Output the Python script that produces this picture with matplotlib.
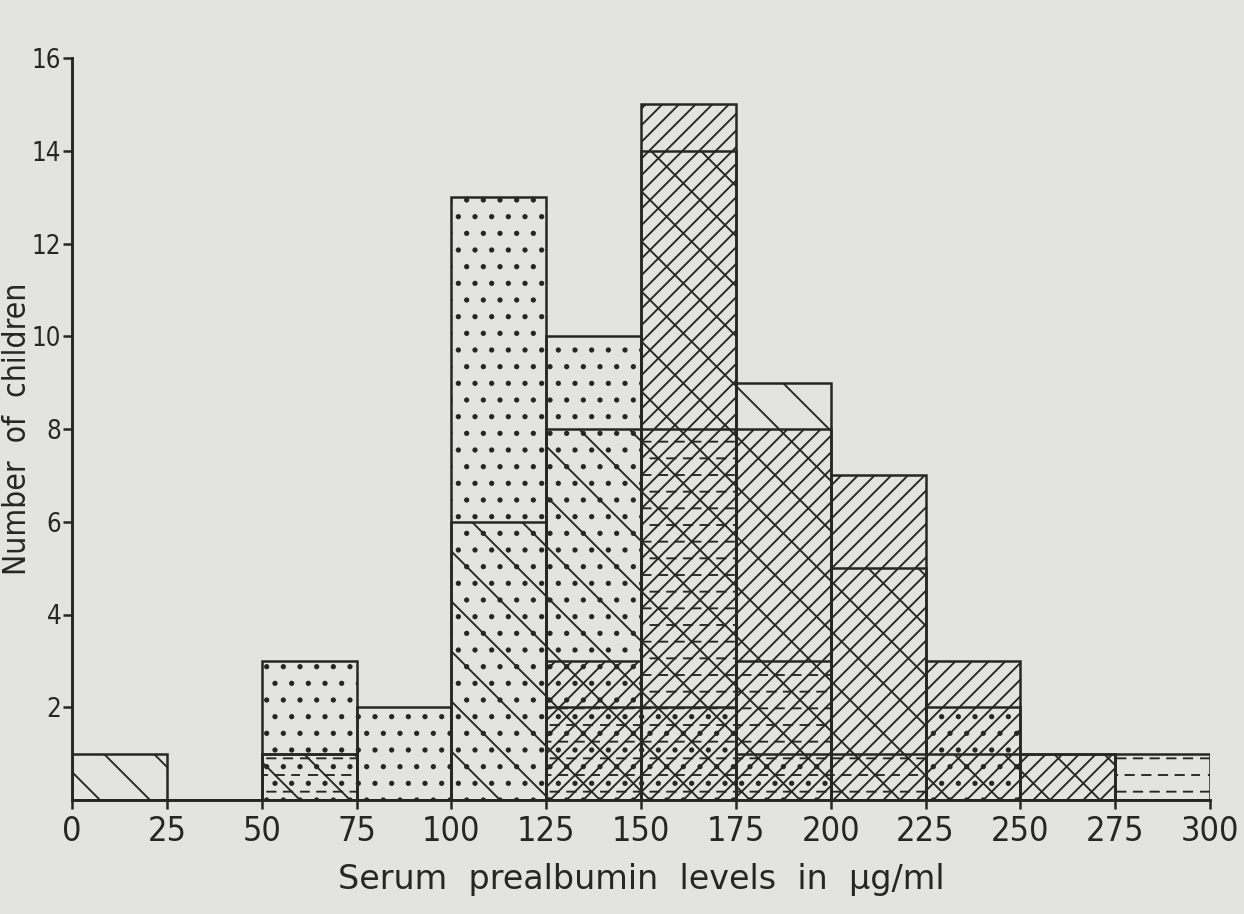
import numpy as np
import matplotlib
matplotlib.use('Agg')
import matplotlib.pyplot as plt
from matplotlib import hatch as mhatch
from matplotlib.path import Path

# bins of serum prealbumin (ug/ml), 25 wide
bin_left = [0, 25, 50, 75, 100, 125, 150, 175, 200, 225, 250, 275]
bin_width = 25

# number of children per bin, one list per hatched group (overlaid, all from 0)
back_diag = [1, 0, 1, 0, 6, 8, 14, 9, 5, 1, 1, 0]     # wide "\\" lines
dotted    = [0, 0, 3, 2, 13, 10, 2, 1, 0, 2, 0, 0]    # dots
fwd_diag  = [0, 0, 0, 0, 0, 3, 15, 8, 7, 3, 1, 0]     # close "//" lines
dashed    = [0, 0, 1, 0, 0, 2, 8, 3, 1, 0, 0, 1]      # short dashes

x_ticks = [0, 25, 50, 75, 100, 125, 150, 175, 200, 225, 250, 275, 300]
y_ticks = [2, 4, 6, 8, 10, 12, 14, 16]

ink = '#262626'
paper = '#e3e3e1'


# '-' hatch drawn as short dashes instead of full lines
class DashHatch(mhatch.HatchPatternBase):
    def __init__(self, hatch, density):
        self.num_rows = int((hatch.count('-') + hatch.count('+')) * density)
        self.num_vertices = self.num_rows * self.num_rows * 2

    def set_vertices_and_codes(self, vertices, codes):
        step = 1.0 / self.num_rows
        k = 0
        for i in range(self.num_rows):
            y = (i + 0.5) * step
            shift = 0.5 * step if i % 2 else 0.0
            for j in range(self.num_rows):
                x0 = j * step + shift + 0.03 * step
                vertices[k] = (x0, y)
                vertices[k + 1] = (x0 + 0.5 * step, y)
                codes[k] = Path.MOVETO
                codes[k + 1] = Path.LINETO
                k += 2


mhatch._hatch_types = [DashHatch if t is mhatch.HorizontalHatch else t
                       for t in mhatch._hatch_types]

plt.rcParams['hatch.linewidth'] = 0.45
plt.rcParams['hatch.color'] = ink
plt.rcParams['font.family'] = ['DejaVu Sans']

DPI = 300
fig = plt.figure(figsize=(1244 / DPI, 914 / DPI), dpi=DPI, facecolor=paper)
ax = fig.add_axes([72 / 1244, 1 - 800 / 914, 1138 / 1244, 742 / 914])
ax.set_facecolor(paper)

groups = [(back_diag, '\\\\'), (fwd_diag, '//////'), (dashed, '---'), (dotted, '...')]
for counts, hatch in groups:
    ax.bar(bin_left, counts, width=bin_width, align='edge', fill=False,
           edgecolor=ink, hatch=hatch, linewidth=0.6)

ax.set_xlim(0, 300)
ax.set_ylim(0, 16)
for side in ['top', 'right']:
    ax.spines[side].set_visible(False)
for side in ['left', 'bottom']:
    ax.spines[side].set_linewidth(0.7)
    ax.spines[side].set_color(ink)

ax.set_xticks(x_ticks)
ax.set_yticks(y_ticks)
ax.set_xticklabels([str(v) for v in x_ticks], fontsize=8.2, fontstretch='condensed')
ax.set_yticklabels([str(v) for v in y_ticks], fontsize=6.2, fontstretch='condensed')
ax.tick_params(axis='both', direction='out', length=2.2, width=0.6, color=ink,
               labelcolor=ink)
ax.tick_params(axis='x', pad=1.5)
ax.tick_params(axis='y', pad=0.4)

ax.set_xlabel('Serum  prealbumin  levels  in  \u00b5g/ml', fontsize=8.0, color=ink)
ax.set_ylabel('Number  of  children', fontsize=7.6, fontstretch='condensed', color=ink)
ax.xaxis.set_label_coords(0.5, -0.085)
ax.yaxis.set_label_coords(-0.034, 0.5)

fig.savefig('out.png', dpi=DPI, facecolor=paper)
